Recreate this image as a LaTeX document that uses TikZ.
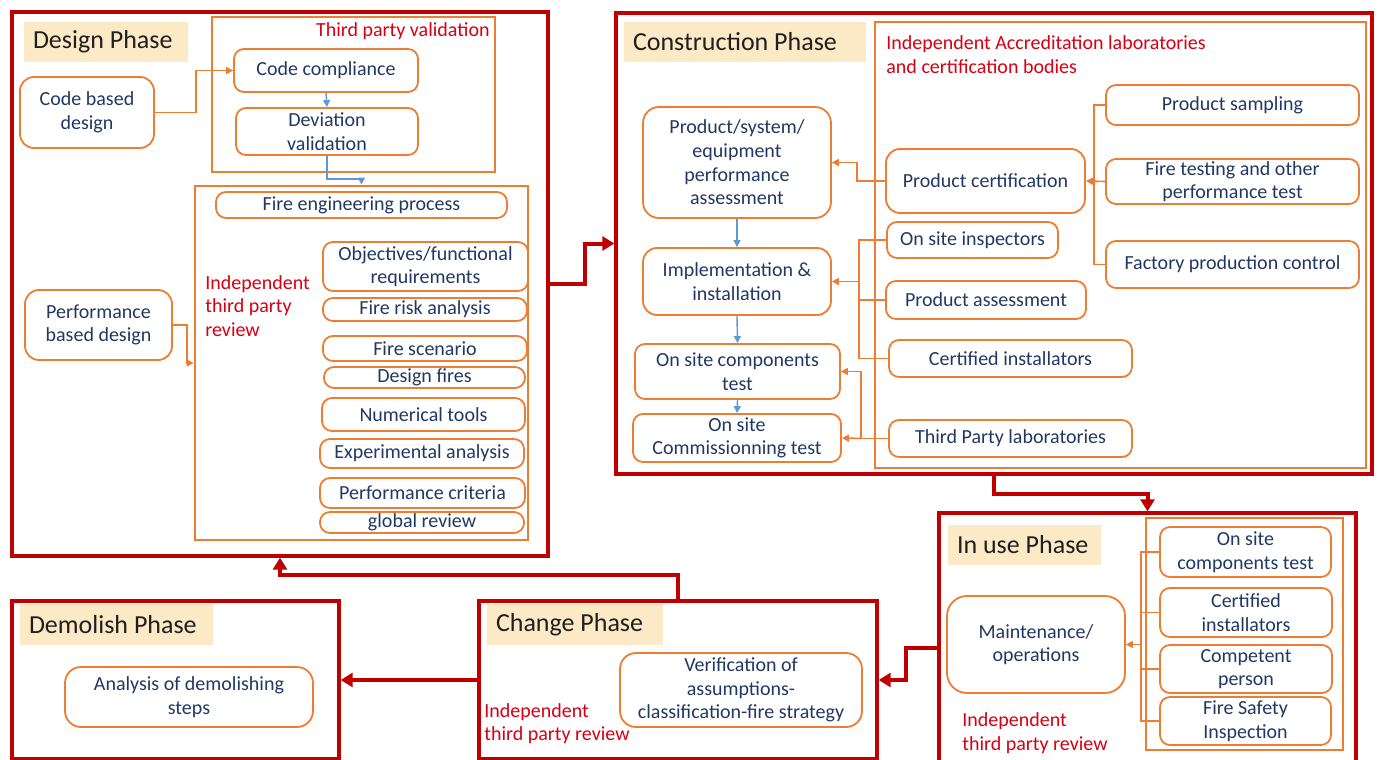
\documentclass[tikz,border=0pt]{standalone}
\usepackage{fontspec}
\setmainfont{Carlito}
\usetikzlibrary{arrows.meta}

\definecolor{phasered}{RGB}{192,0,0}
\definecolor{reviewred}{RGB}{214,0,18}
\definecolor{boxorange}{RGB}{237,125,49}
\definecolor{textblue}{RGB}{32,56,100}
\definecolor{labeltan}{RGB}{252,234,198}
\definecolor{flowblue}{RGB}{91,155,213}

\tikzset{
  sz/.style 2 args={minimum width=#1*0.5pt, minimum height=#2*0.5pt},
  phase/.style={draw=phasered, line width=1.7pt, inner sep=0pt},
  group/.style={draw=boxorange, line width=1.4pt, inner sep=0pt},
  task/.style={draw=boxorange, line width=0.9pt, rounded corners=5pt, text=textblue,
    align=center, font=\fontsize{10}{11.8}\selectfont, inner xsep=2pt, inner ysep=0pt},
  title/.style 2 args={sz={#1}{#2}, text width=#1*0.5pt-9pt, align=flush left, fill=labeltan,
    text=black!88, font=\fontsize{13}{15}\selectfont, inner xsep=4.5pt, inner ysep=0pt},
  note/.style={text=reviewred, align=left, font=\fontsize{10}{11.8}\selectfont, inner sep=0pt},
  flow/.style={draw=phasered, line width=2pt, -{Triangle[length=6pt,width=7pt]}},
  oline/.style={draw=boxorange, line width=0.8pt},
  oarrow/.style={oline, -{Triangle[length=3.5pt,width=3.5pt]}},
  barrow/.style={draw=flowblue, line width=0.7pt, -{Triangle[length=3.5pt,width=3.5pt]}},
}

\begin{document}
\begin{tikzpicture}[x=0.5pt, y=-0.5pt]
\useasboundingbox (0,0) rectangle (1378,760);

% design phase
\node[phase, sz={536}{544}] (design) at (280,284) {};
\node[title={164}{40}] (ttldesign) at (106,42) {Design Phase};
\node[group, sz={283}{155}] (validation) at (353.5,94.5) {};
\node[note, anchor=east] (validationlbl) at (490,31) {Third party validation};
\node[task, sz={184}{43}] (codecomp) at (326,70.5) {Code compliance};
\node[task, sz={182}{47}] (deviation) at (327,131.5) {Deviation\\validation};
\node[task, sz={134}{71}, rounded corners=7pt] (codebased) at (87,112.5) {Code based\\design};
\node[group, sz={333}{354}] (review) at (361.5,363) {};
\node[task, sz={291}{26}] (fireeng) at (361.5,205) {Fire engineering process};
\node[note, anchor=west] (reviewlbl) at (205,306) {Independent\\third party\\review};
\node[task, sz={205}{49}] (objectives) at (425.5,266.5) {Objectives/functional\\requirements};
\node[task, sz={204}{23}] (riskan) at (425,309.5) {Fire risk analysis};
\node[task, sz={204}{25}] (scenario) at (425,348.5) {Fire scenario};
\node[task, sz={201}{21}] (designfires) at (424.5,377.5) {Design fires};
\node[task, sz={203}{33}] (numtools) at (423.5,414.5) {Numerical tools};
\node[task, sz={204}{29}] (experim) at (422,453.5) {Experimental analysis};
\node[task, sz={205}{30}] (perfcrit) at (422.5,493) {Performance criteria};
\node[task, sz={204}{21}] (globrev) at (422,522.5) {global review};
\node[task, sz={147}{70}, rounded corners=7pt] (perfbased) at (98.5,325) {Performance\\based design};

\draw[oarrow] (codebased.east) -- ++(41,0) |- (codecomp.west);
\draw[barrow] (codecomp.south) -- (deviation.north);
\draw[barrow] (deviation.south) -- ++(0,23) -| (review.north);
\draw[oarrow] (perfbased.east) -- ++(14,0) |- (review.west);

% construction phase
\node[phase, sz={756}{461}] (constr) at (994,243.5) {};
\node[title={242}{40}] (ttlconstr) at (745,42) {Construction Phase};
\node[group, sz={491}{446}] (accred) at (1120.5,245) {};
\node[note, anchor=west] (accredlbl) at (886,54.5) {Independent Accreditation laboratories\\and certification bodies};
\node[task, sz={188}{111}, rounded corners=8pt] (prodsys) at (737,162.5) {Product/system/\\equipment\\performance\\assessment};
\node[task, sz={188}{67}, rounded corners=7pt] (implem) at (737,281.5) {Implementation \&\\installation};
\node[task, sz={205}{55}] (compotest) at (737.5,371.5) {On site components\\test};
\node[task, sz={208}{48}] (commtest) at (737,438) {On site\\Commissionning test};
\node[task, sz={199}{64}, rounded corners=7pt] (prodcert) at (985.5,181) {Product certification};
\node[task, sz={171}{36}] (inspect) at (972.5,240) {On site inspectors};
\node[task, sz={200}{38}] (prodass) at (986,300) {Product assessment};
\node[task, sz={243}{37}] (certinst) at (1010.5,358.5) {Certified installators};
\node[task, sz={243}{37}] (labs) at (1010.5,438.5) {Third Party laboratories};
\node[task, sz={253}{40}] (sampling) at (1232.5,105) {Product sampling};
\node[task, sz={253}{45}] (firetest) at (1232.5,181.5) {Fire testing and other\\performance test};
\node[task, sz={253}{47}] (factory) at (1232.5,264.5) {Factory production control};

\draw[barrow] (prodsys.south) -- (implem.north);
\draw[barrow] (implem.south) -- (compotest.north);
\draw[barrow] (compotest.south) -- (commtest.north);
\draw[oarrow] (prodcert.west) -- ++(-28,0) |- (prodsys.east);
\path (implem.east) ++(27,0) coordinate (jinst);
\draw[oline] (inspect.west) -| (jinst) |- (certinst.west);
\draw[oline] (prodass.west) -- (prodass.west -| jinst);
\draw[oarrow] (jinst) -- (implem.east);
\draw[oline] (labs.west) -- ++(-27,0) coordinate (jlabs);
\draw[oarrow] (jlabs) |- (compotest.east);
\draw[oarrow] (jlabs) -- (commtest.east);
\draw[oline] (sampling.west) -- ++(-11,0) coordinate (jcert) -- (jcert |- factory.west) -- (factory.west);
\draw[oarrow] (firetest.west) -- (prodcert.east);

% in use phase
\node[phase, sz={417}{270}] (inuse) at (1147.5,648) {};
\node[title={153}{40}] (ttlinuse) at (1024.5,545) {In use Phase};
\node[group, sz={197}{232}] (checks) at (1244.5,634) {};
\node[task, sz={171}{50}] (sitetest) at (1245.5,552) {On site\\components test};
\node[task, sz={172}{49}] (installers) at (1246,612.5) {Certified\\installators};
\node[task, sz={172}{48}] (competent) at (1246,669) {Competent\\person};
\node[task, sz={171}{48}] (inspection) at (1245.5,721) {Fire Safety\\Inspection};
\node[task, sz={178}{97}, rounded corners=10pt] (maint) at (1036,644.5) {Maintenance/\\operations};
\node[note, anchor=west] (inuselbl) at (962,733) {Independent\\third party review};

\draw[oline] (sitetest.west) -- ++(-18,0) coordinate (juse) -- (juse |- inspection.west) -- (inspection.west);
\draw[oline] (installers.west) -- (installers.west -| juse);
\draw[oline] (competent.west) -- (competent.west -| juse);
\draw[oarrow] (maint.east -| juse) -- (maint.east);

% change and demolish phases
\node[phase, sz={398}{158}] (change) at (678,680) {};
\node[title={176}{41}] (ttlchange) at (575,624.5) {Change Phase};
\node[task, sz={242}{74}, rounded corners=8pt] (verif) at (741,690) {Verification of\\assumptions-\\classification-fire strategy};
\node[note, anchor=west] (changelbl) at (484,723.5) {Independent\\third party review};
\node[phase, sz={327}{158}] (demolish) at (175.5,680) {};
\node[title={193}{41}] (ttldemolish) at (116.5,624.5) {Demolish Phase};
\node[task, sz={248}{60}, rounded corners=8pt] (demsteps) at (189,697) {Analysis of demolishing\\steps};

% phase flow
\draw[flow] (design.east) -- ++(35,0) |- (constr.west);
\draw[flow] (constr.south) -- ++(0,18) -| (inuse.north);
\draw[flow] (inuse.west) -- ++(-31,0) |- (change.east);
\draw[flow] (change.west) -- (demolish.east);
\draw[flow] (change.north) -- ++(0,-24) -| (design.south);

\end{tikzpicture}
\end{document}
